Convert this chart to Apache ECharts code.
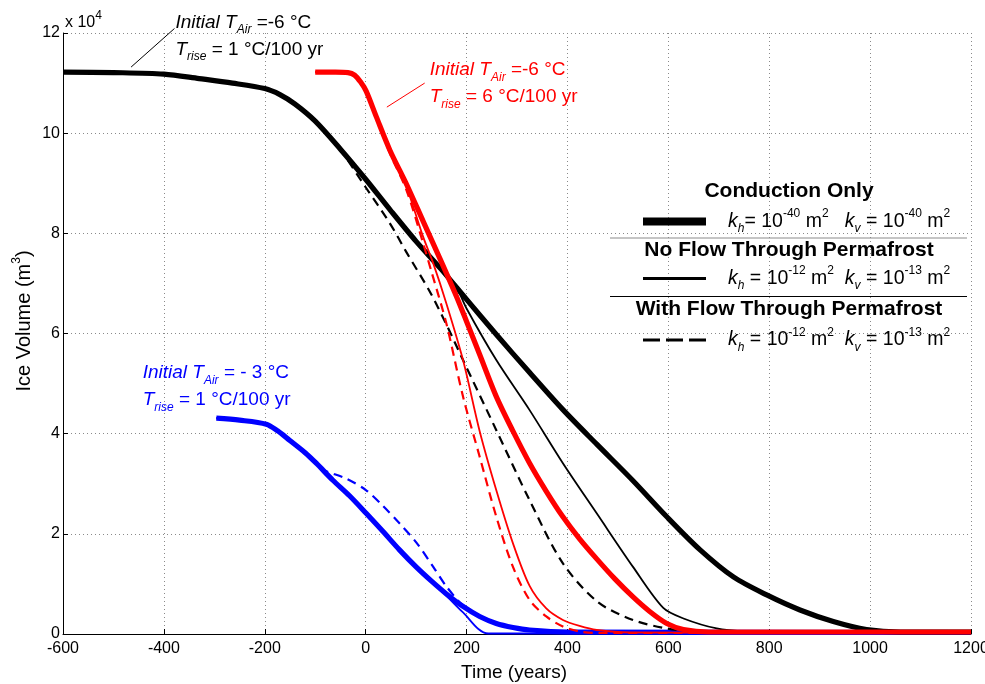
<!DOCTYPE html>
<html>
<head>
<meta charset="utf-8">
<title>Ice Volume vs Time</title>
<script src="https://cdn.jsdelivr.net/npm/echarts@6/dist/echarts.min.js"></script>
<style>
  html, body { margin: 0; padding: 0; background: #ffffff; }
  #chart { width: 985px; height: 684px; }
</style>
</head>
<body>
<div id="chart"></div>
<script>
// Ice volume (units of 10^4 m^3) against time (years), pairs of [year, volume]
// Initial T_Air = -6 °C, T_rise = 1 °C/100 yr
const blackConduction = [[-600,11.22],[-500,11.21],[-400,11.18],[-330,11.09],[-264,11.0],[-200,10.89],[-170,10.77],[-140,10.58],[-100,10.24],[-50,9.68],[0,9.08],[50,8.45],[100,7.84],[150,7.28],[200,6.68],[259,5.98],[325,5.22],[391,4.48],[458,3.79],[530,3.06],[597,2.34],[663,1.68],[729,1.14],[795,0.78],[861,0.48],[927,0.25],[993,0.09],[1060,0.04],[1200,0.04]];
const blackNoFlow = [[-600,11.22],[-500,11.21],[-400,11.18],[-330,11.09],[-264,11.0],[-200,10.89],[-170,10.77],[-140,10.58],[-100,10.24],[-50,9.68],[0,9.08],[50,8.45],[100,7.84],[150,7.28],[180,6.92],[200,6.5],[259,5.47],[325,4.47],[391,3.41],[460,2.38],[530,1.34],[590,0.52],[630,0.31],[696,0.11],[760,0.04],[820,0.02],[1200,0.02]];
const blackWithFlow = [[-600,11.22],[-500,11.21],[-400,11.18],[-330,11.09],[-264,11.0],[-200,10.89],[-170,10.77],[-140,10.58],[-100,10.24],[-50,9.66],[0,8.92],[48,8.2],[81,7.62],[127,6.84],[160,6.18],[193,5.47],[259,4.07],[325,2.67],[391,1.41],[460,0.64],[530,0.28],[597,0.11],[650,0.05],[720,0.02],[1200,0.02]];

// Initial T_Air = -6 °C, T_rise = 6 °C/100 yr
const redConduction = [[-100,11.22],[-60,11.22],[-35,11.21],[-22,11.16],[-10,11.02],[1,10.84],[21,10.33],[48,9.66],[81,8.98],[114,8.24],[147,7.5],[180,6.74],[200,6.24],[226,5.58],[259,4.74],[292,4.05],[325,3.41],[358,2.85],[391,2.34],[424,1.9],[458,1.5],[494,1.1],[530,0.74],[563,0.45],[597,0.21],[630,0.09],[680,0.04],[1200,0.04]];
const redNoFlow = [[-100,11.22],[-60,11.22],[-35,11.21],[-22,11.16],[-10,11.02],[1,10.84],[21,10.33],[48,9.66],[81,8.92],[114,7.93],[134,7.4],[160,6.6],[193,5.47],[226,4.05],[259,2.87],[292,1.81],[325,0.96],[358,0.51],[391,0.28],[424,0.16],[458,0.08],[524,0.03],[1200,0.02]];
const redWithFlow = [[-100,11.22],[-60,11.22],[-35,11.21],[-22,11.16],[-10,11.02],[1,10.84],[21,10.33],[48,9.6],[81,8.86],[114,7.8],[130,7.25],[160,6.2],[193,4.74],[226,3.54],[259,2.34],[292,1.34],[325,0.68],[358,0.35],[391,0.15],[424,0.05],[460,0.02],[1200,0.02]];

// Initial T_Air = -3 °C, T_rise = 1 °C/100 yr
const blueConduction = [[-296,4.31],[-250,4.27],[-197,4.19],[-175,4.06],[-151,3.87],[-120,3.62],[-98,3.41],[-65,3.07],[-32,2.76],[1,2.41],[34,2.05],[67,1.68],[100,1.34],[130,1.06],[160,0.8],[193,0.55],[226,0.35],[259,0.21],[292,0.13],[325,0.08],[400,0.04],[1200,0.03]];
const blueNoFlow = [[-296,4.31],[-250,4.27],[-197,4.19],[-175,4.06],[-151,3.87],[-120,3.62],[-98,3.41],[-65,3.07],[-32,2.76],[1,2.41],[34,2.05],[67,1.68],[100,1.34],[140,0.97],[193,0.43],[243,0.01],[1200,0.01]];
const blueWithFlow = [[-296,4.31],[-250,4.27],[-197,4.19],[-175,4.06],[-151,3.87],[-120,3.62],[-98,3.41],[-85,3.28],[-40,3.11],[1,2.87],[34,2.56],[67,2.21],[101,1.82],[134,1.34],[160,0.95],[190,0.6],[226,0.36],[259,0.21],[292,0.13],[325,0.08],[400,0.04],[1200,0.03]];

const xTicks = { min: -600, max: 1200, step: 200 };
const yTicks = { min: 0, max: 12, step: 2 };

const FONT = '"Liberation Sans", Arial, Helvetica, sans-serif';
const THICK = 5.2, THIN = 1.8, DASHW = 2.2, DASH = [9, 6];

function curve(name, data, color, width, dashed, z) {
  return {
    type: 'line', name: name, data: data, symbol: 'none', z: z,
    smooth: 0.3, animation: false,
    lineStyle: { color: color, width: width, type: dashed ? DASH : 'solid', cap: 'butt', join: 'round' }
  };
}

function rich(color, size) {
  const base = { fontFamily: FONT, fill: color, color: color };
  return {
    n:   Object.assign({}, base, { fontSize: size, lineHeight: 27 }),
    i:   Object.assign({}, base, { fontSize: size, lineHeight: 27, fontStyle: 'italic' }),
    sub: Object.assign({}, base, { fontSize: 12, lineHeight: 14, verticalAlign: 'bottom', fontStyle: 'italic' }),
    sup: Object.assign({}, base, { fontSize: 12, lineHeight: 11, verticalAlign: 'top' })
  };
}

const chart = echarts.init(document.getElementById('chart'), null, { renderer: 'canvas' });

const gridLine = { show: true, lineStyle: { color: '#8a8a8a', width: 1, type: [1, 3] } };
const plainNumber = function (v) { return String(v); };

chart.setOption({
  backgroundColor: '#ffffff',
  animation: false,
  grid: { left: 63, right: 14, top: 33, bottom: 50, containLabel: false, outerBoundsMode: 'none' },
  xAxis: {
    type: 'value', min: xTicks.min, max: xTicks.max, interval: xTicks.step,
    axisLine: { show: true, onZero: false, lineStyle: { color: '#000', width: 1 } },
    axisTick: { show: true, inside: true, length: 5, lineStyle: { color: '#000' } },
    axisLabel: { color: '#000', fontFamily: FONT, fontSize: 16, margin: 7, formatter: plainNumber },
    splitLine: gridLine
  },
  yAxis: {
    type: 'value', min: yTicks.min, max: yTicks.max, interval: yTicks.step,
    axisLine: { show: true, onZero: false, lineStyle: { color: '#000', width: 1 } },
    axisTick: { show: true, inside: true, length: 5, lineStyle: { color: '#000' } },
    axisLabel: { color: '#000', fontFamily: FONT, fontSize: 16, margin: 3, formatter: plainNumber },
    splitLine: gridLine
  },
  series: [
    curve('blue conduction', blueConduction, '#0000ff', THICK, false, 2),
    curve('blue no flow', blueNoFlow, '#0000ff', THIN, false, 2),
    curve('blue with flow', blueWithFlow, '#0000ff', DASHW, true, 2),
    curve('black conduction', blackConduction, '#000000', THICK, false, 3),
    curve('black no flow', blackNoFlow, '#000000', THIN, false, 3),
    curve('black with flow', blackWithFlow, '#000000', DASHW, true, 3),
    curve('red conduction', redConduction, '#ff0000', THICK, false, 4),
    curve('red no flow', redNoFlow, '#ff0000', THIN, false, 4),
    curve('red with flow', redWithFlow, '#ff0000', DASHW, true, 4)
  ]
});

// Annotation anchors in data coordinates: [year, volume]
const notes = [
  { color: '#000000', at: [-377, 11.94], from: [-465, 11.32], to: [-379, 12.09],
    text: '{i|Initial T}{sub|Air}{n| =-6 °C}\n{i|T}{sub|rise}{n| = 1 °C/100 yr}' },
  { color: '#ff0000', at: [127, 10.99], from: [42, 10.52], to: [117, 11.0],
    text: '{i|Initial T}{sub|Air}{n| =-6 °C}\n{i|T}{sub|rise}{n| = 6 °C/100 yr}' },
  { color: '#0000ff', at: [-442, 4.94], from: null, to: null,
    text: '{i|Initial T}{sub|Air}{n| = - 3 °C}\n{i|T}{sub|rise}{n| = 1 °C/100 yr}' }
];

const px = (p) => chart.convertToPixel({ xAxisIndex: 0, yAxisIndex: 0 }, p);
const graphics = [];

notes.forEach(function (nt) {
  const p = px(nt.at);
  graphics.push({
    type: 'text', x: p[0], y: p[1], z: 20,
    style: { text: nt.text, rich: rich(nt.color, 19), fill: nt.color, font: '19px ' + FONT, align: 'left', verticalAlign: 'middle' }
  });
  if (nt.from) {
    const a = px(nt.from), b = px(nt.to);
    graphics.push({
      type: 'line', z: 20,
      shape: { x1: a[0], y1: a[1], x2: b[0], y2: b[1] },
      style: { stroke: nt.color, lineWidth: 1 }
    });
  }
});

// Axis multiplier and axis titles
graphics.push({
  type: 'text', x: 65, y: 23, z: 20,
  style: { text: '{n|x 10}{sup|4}', rich: rich('#000', 16), fill: '#000', align: 'left', verticalAlign: 'middle' }
});
graphics.push({
  type: 'text', x: 514, y: 673, z: 20,
  style: { text: 'Time (years)', fill: '#000', font: '19px ' + FONT, align: 'center', verticalAlign: 'middle' }
});
graphics.push({
  type: 'text', x: 24, y: 321, rotation: Math.PI / 2, z: 20,
  style: { text: '{n|Ice Volume (m}{sup|3}{n|)}', rich: rich('#000', 20), fill: '#000', align: 'center', verticalAlign: 'middle' }
});

// Legend block
const legendX0 = 610, legendX1 = 967, sampleX0 = 643, sampleX1 = 706, textX = 728, titleX = 789;
const legendRows = [
  { title: 'Conduction Only', titleY: 191, y: 221.5, w: 8, dash: null,
    label: '{i|k}{sub|h}{n|= 10}{sup|-40}{n| m}{sup|2}{n|   }{i|k}{sub|v}{n| = 10}{sup|-40}{n| m}{sup|2}', rule: { y: 238, color: '#8a8a8a' } },
  { title: 'No Flow Through Permafrost', titleY: 250, y: 278.5, w: 3, dash: null,
    label: '{i|k}{sub|h}{n| = 10}{sup|-12}{n| m}{sup|2}{n|  }{i|k}{sub|v}{n| = 10}{sup|-13}{n| m}{sup|2}', rule: { y: 296.5, color: '#000' } },
  { title: 'With Flow Through Permafrost', titleY: 309, y: 340, w: 3, dash: [17, 6],
    label: '{i|k}{sub|h}{n| = 10}{sup|-12}{n| m}{sup|2}{n|  }{i|k}{sub|v}{n| = 10}{sup|-13}{n| m}{sup|2}', rule: null }
];
legendRows.forEach(function (r) {
  graphics.push({
    type: 'text', x: titleX, y: r.titleY, z: 20,
    style: { text: r.title, fill: '#000', font: 'bold 21px ' + FONT, align: 'center', verticalAlign: 'middle' }
  });
  graphics.push({
    type: 'line', z: 20, shape: { x1: sampleX0, y1: r.y, x2: sampleX1, y2: r.y },
    style: { stroke: '#000', lineWidth: r.w, lineDash: r.dash || null, lineCap: 'butt' }
  });
  graphics.push({
    type: 'text', x: textX, y: r.y, z: 20,
    style: { text: r.label, rich: rich('#000', 19.5), fill: '#000', align: 'left', verticalAlign: 'middle' }
  });
  if (r.rule) {
    graphics.push({
      type: 'line', z: 20, shape: { x1: legendX0, y1: r.rule.y, x2: legendX1, y2: r.rule.y },
      style: { stroke: r.rule.color, lineWidth: 1 }
    });
  }
});

chart.setOption({ graphic: graphics });
</script>
</body>
</html>
